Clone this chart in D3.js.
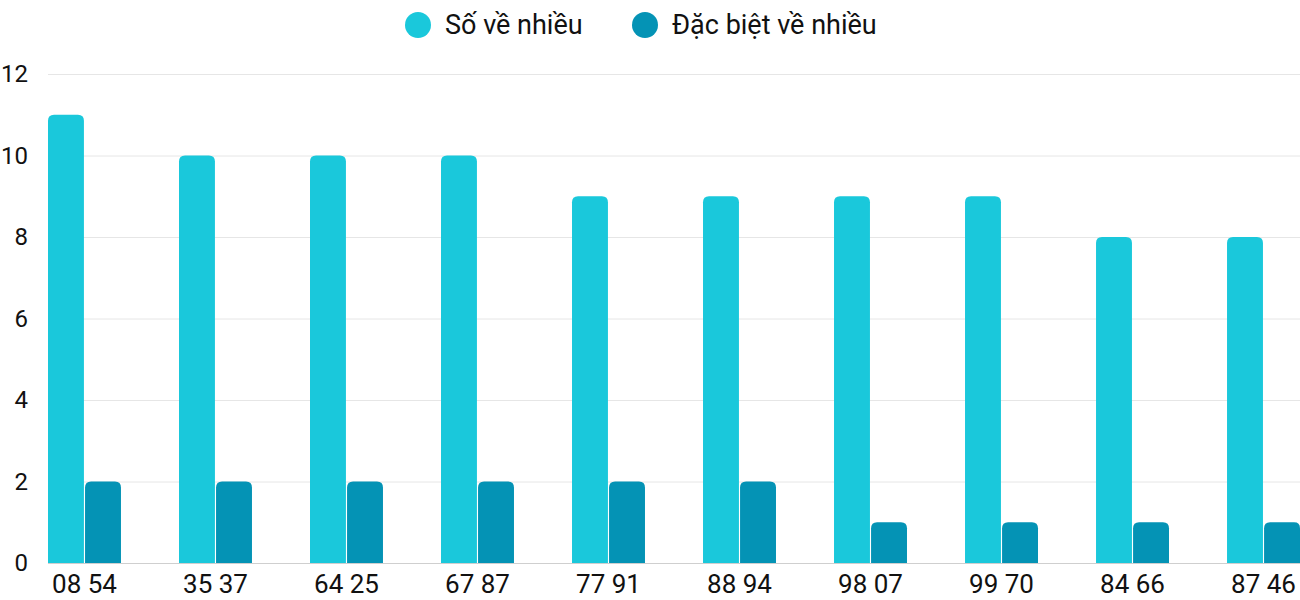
<!DOCTYPE html>
<html>
<head>
<meta charset="utf-8">
<script src="https://cdn.jsdelivr.net/npm/d3@7"></script>
<style>
    body { margin: 0; background: #fff; }
    text { font-family: Roboto, "Noto Sans", sans-serif; fill: #111; }
</style>
</head>
<body>
<svg id="chart" width="1300" height="600"></svg>
<script>
var categories = ['08 54', '35 37', '64 25', '67 87', '77 91', '88 94', '98 07', '99 70', '84 66', '87 46'];
var seriesNames = ['Số về nhiều', 'Đặc biệt về nhiều'];
var soVeNhieu = [11, 10, 10, 10, 9, 9, 9, 9, 8, 8];
var dacBietVeNhieu = [2, 2, 2, 2, 2, 2, 1, 1, 1, 1];
var yTicks = [0, 2, 4, 6, 8, 10, 12];
var colors = ['#1ac8db', '#0493b5'];

var svg = d3.select('#chart');
var plotLeft = 48, plotRight = 1300, plotTop = 74, plotBottom = 563;

var x = d3.scaleBand().domain(categories).range([plotLeft, plotRight]).paddingInner(0.443).paddingOuter(0);
var xs = d3.scaleBand().domain([0, 1]).range([0, x.bandwidth()]).paddingInner(0.03);
var y = d3.scaleLinear().domain([0, 12]).range([plotBottom, plotTop]);

// grid
svg.append('g').selectAll('line').data(yTicks).enter().append('line')
    .attr('x1', plotLeft).attr('x2', plotRight)
    .attr('y1', function (d) { return y(d) + 0.5; })
    .attr('y2', function (d) { return y(d) + 0.5; })
    .attr('stroke', function (d) { return d === 0 ? '#cfcfcf' : '#e6e6e6'; })
    .attr('stroke-width', 1);

// y labels
svg.append('g').selectAll('text').data(yTicks).enter().append('text')
    .attr('x', 28).attr('y', function (d) { return y(d) + 8; })
    .attr('text-anchor', 'end').attr('font-size', 24)
    .text(function (d) { return d; });

// bars with rounded top corners
var topRounded = function (x0, y0, w, h, r) {
    r = Math.min(r, h, w / 2);
    return 'M' + x0 + ',' + (y0 + h) +
        'V' + (y0 + r) + 'Q' + x0 + ',' + y0 + ' ' + (x0 + r) + ',' + y0 +
        'H' + (x0 + w - r) + 'Q' + (x0 + w) + ',' + y0 + ' ' + (x0 + w) + ',' + (y0 + r) +
        'V' + (y0 + h) + 'Z';
};

var rows = categories.map(function (c, i) { return {cat: c, vals: [soVeNhieu[i], dacBietVeNhieu[i]]}; });
var grp = svg.append('g').selectAll('g').data(rows).enter().append('g')
    .attr('transform', function (d) { return 'translate(' + x(d.cat) + ',0)'; });
grp.selectAll('path').data(function (d) { return d.vals; }).enter().append('path')
    .attr('d', function (v, j) { return topRounded(xs(j), y(v), xs.bandwidth(), plotBottom - y(v), 6); })
    .attr('fill', function (v, j) { return colors[j]; });

// x labels
svg.append('g').selectAll('text').data(categories).enter().append('text')
    .attr('x', function (d) { return x(d) + x.bandwidth() / 2; })
    .attr('y', 593).attr('text-anchor', 'middle').attr('font-size', 26)
    .text(function (d) { return d; });

// legend
var legendX = [418, 645];
var lg = svg.append('g').selectAll('g').data(seriesNames).enter().append('g');
lg.append('circle').attr('cx', function (d, i) { return legendX[i]; }).attr('cy', 25).attr('r', 13)
    .attr('fill', function (d, i) { return colors[i]; });
lg.append('text').attr('x', function (d, i) { return legendX[i] + 27; }).attr('y', 34)
    .attr('font-size', 27).text(function (d) { return d; });
</script>
</body>
</html>
